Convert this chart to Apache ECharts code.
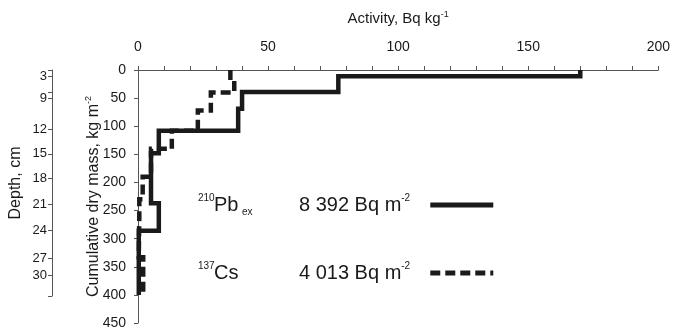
<!DOCTYPE html>
<html>
<head>
<meta charset="utf-8">
<script src="https://cdn.jsdelivr.net/npm/echarts@6/dist/echarts.min.js"></script>
<style>
html,body{margin:0;padding:0;background:#fff}
#chart{width:673px;height:330px}
</style>
</head>
<body>
<div id="chart"></div>
<script>
// activity (Bq/kg) per layer, layer bounds in cumulative dry mass (kg/m2)
var pbActivity = [170, 77, 40, 38.5, 8, 5, 8, 0.3];
var pbMass = [0, 11, 39, 69, 108, 148, 237, 286, 400];
var csActivity = [35.5, 37, 28, 23, 13, 5, 1.8, 0.5, 0.3, 2];
var csMass = [0, 18, 40, 72, 108, 140, 190, 230, 260, 333, 400];
// depth scale (cm) placed against cumulative mass
var depthTickMass = [0, 12, 39, 51, 105, 149, 193, 239, 285, 335, 365, 402];
var depthLabelMass = [12, 51, 105, 149, 193, 239, 285, 335, 365];
var depthLabels = ['3', '9', '12', '15', '18', '21', '24', '27', '30'];

var font = 'Liberation Sans, Arial, sans-serif';
var ink = '#1a1a1a';
var axisCol = '#555';

function steps(vals, bounds) {
  var pts = [];
  for (var i = 0; i < vals.length; i++) {
    pts.push([vals[i], bounds[i]]);
    pts.push([vals[i], bounds[i + 1]]);
  }
  return pts;
}

function txt(size, extra) {
  var s = {fontSize: size, fontFamily: font, color: ink, align: 'left'};
  for (var k in extra) s[k] = extra[k];
  return s;
}

var chart = echarts.init(document.getElementById('chart'));
var option = {
  animation: false,
  color: [ink, ink],
  textStyle: {fontFamily: font, color: ink},
  grid: [
    {left: 138, top: 70, right: 8, bottom: 6},
    {left: 52, top: 70, width: 10, height: 226}
  ],
  xAxis: [{
    type: 'value', position: 'top', min: 0, max: 200, interval: 10,
    name: '{t|Activity, Bq kg}{s|-1}', nameLocation: 'middle', nameGap: 42, nameMoveOverlap: false,
    nameTextStyle: {rich: {
      t: txt(15, {lineHeight: 18}),
      s: txt(9, {lineHeight: 9, verticalAlign: 'top'})
    }},
    axisLine: {lineStyle: {color: axisCol, width: 1}},
    axisTick: {length: 4, lineStyle: {color: axisCol}},
    axisLabel: {fontSize: 14, color: ink, margin: 16, fontFamily: font,
      formatter: function (v) { return v % 50 === 0 ? v : ''; }},
    splitLine: {show: false}
  }, {
    type: 'value', gridIndex: 1, show: false
  }],
  yAxis: [{
    type: 'value', min: 0, max: 450, interval: 50, inverse: true,
    name: '{t|Cumulative dry mass, kg m}{s|-2}', nameLocation: 'middle', nameGap: 35, nameRotate: 90,
    nameMoveOverlap: false,
    nameTextStyle: {rich: {
      t: txt(16, {lineHeight: 19}),
      s: txt(9, {lineHeight: 9, verticalAlign: 'top'})
    }},
    axisLine: {lineStyle: {color: axisCol, width: 1}},
    axisTick: {length: 4, lineStyle: {color: axisCol}},
    axisLabel: {fontSize: 14, color: ink, margin: 12, fontFamily: font},
    splitLine: {show: false}
  }, {
    type: 'value', gridIndex: 1, min: 0, max: 402, inverse: true, position: 'left',
    name: 'Depth, cm', nameLocation: 'middle', nameGap: 28, nameRotate: 90, nameMoveOverlap: false,
    nameTextStyle: {fontSize: 16, fontFamily: font, color: ink},
    axisLine: {show: true, lineStyle: {color: axisCol, width: 1}},
    axisTick: {show: true, length: 4, customValues: depthTickMass, lineStyle: {color: axisCol}},
    axisLabel: {fontSize: 13, color: ink, margin: 5, fontFamily: font,
      customValues: depthLabelMass,
      formatter: function (v) { return depthLabels[depthLabelMass.indexOf(v)]; }},
    splitLine: {show: false}
  }],
  legend: {
    orient: 'vertical', left: 193, top: 188, itemGap: 44, align: 'right',
    itemWidth: 63, itemHeight: 14, selectedMode: false,
    data: ['Pb', 'Cs'],
    lineStyle: {width: 5},
    itemStyle: {color: 'transparent', borderWidth: 0, opacity: 0},
    formatter: function (name) {
      if (name === 'Pb') return '{iso|210}{el|Pb}{sub|ex}{val|8 392 Bq m}{sup|-2}';
      return '{iso|137}{el2|Cs}{val|4 013 Bq m}{sup|-2}';
    },
    textStyle: {rich: {
      iso: txt(10, {width: 16, lineHeight: 12, verticalAlign: 'top'}),
      el: txt(20, {width: 28, lineHeight: 24}),
      el2: txt(20, {width: 85, lineHeight: 24}),
      sub: txt(10, {width: 57, lineHeight: 12, verticalAlign: 'bottom'}),
      val: txt(20, {lineHeight: 24}),
      sup: txt(10, {width: 24, lineHeight: 12, verticalAlign: 'top'})
    }}
  },
  series: [{
    name: 'Cs', type: 'line', symbol: 'none', xAxisIndex: 0, yAxisIndex: 0,
    data: steps(csActivity, csMass),
    lineStyle: {color: ink, width: 4.5, type: [10, 5], cap: 'butt', join: 'miter'}
  }, {
    name: 'Pb', type: 'line', symbol: 'none', xAxisIndex: 0, yAxisIndex: 0,
    data: steps(pbActivity, pbMass),
    lineStyle: {color: ink, width: 4.5, type: 'solid', cap: 'butt', join: 'miter'}
  }]
};
chart.setOption(option);
</script>
</body>
</html>
